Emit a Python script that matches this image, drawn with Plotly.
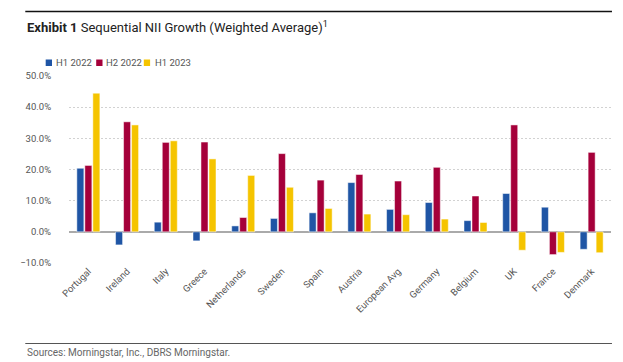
import plotly.graph_objects as go

categories = ["Portugal", "Ireland", "Italy", "Greece", "Netherlands", "Sweden", "Spain",
              "Austria", "European Avg", "Germany", "Belgium", "UK", "France", "Denmark"]
h1_2022 = [20.4, -4.2, 3.1, -2.9, 1.9, 4.3, 6.1, 15.8, 7.2, 9.4, 3.6, 12.3, 7.9, -5.6]
h2_2022 = [21.3, 35.3, 28.7, 28.8, 4.6, 25.1, 16.6, 18.4, 16.3, 20.7, 11.5, 34.3, -7.3, 25.5]
h1_2023 = [44.5, 34.3, 29.2, 23.4, 18.1, 14.3, 7.5, 5.7, 5.5, 4.1, 3.0, -5.9, -6.6, -6.7]
series_names = ["H1 2022", "H2 2022", "H1 2023"]
colors = ["#1F55A5", "#A5003A", "#F5C400"]

FONT = "Roboto, sans-serif"

# page body has an 8px default margin: design the figure in page pixels minus that offset
OFF = 8
W, H = 623 - OFF, 362 - OFF
L, R, T, B = 53 - OFF, 623 - 611, 76 - OFF, 362 - 263
pw, ph = W - L - R, H - T - B

def px_x(x):
    return (x - OFF - L) / pw

def px_y(y):
    return (H - B - (y - OFF)) / ph

fig = go.Figure()
for name, vals, col in zip(series_names, [h1_2022, h2_2022, h1_2023], colors):
    fig.add_trace(go.Bar(x=categories, y=vals, name=name, showlegend=False,
                         marker=dict(color=col, line=dict(color="rgba(255,255,255,0.5)", width=1))))

legend_sq_x = [29, 81, 130]
legend_txt_x = [38, 89, 139]
shapes = [
    dict(type="line", xref="paper", yref="paper", x0=px_x(8), x1=px_x(612),
         y0=px_y(11.5), y1=px_y(11.5), line=dict(color="#111", width=1.5), layer="above"),
    dict(type="line", xref="paper", yref="paper", x0=px_x(8), x1=px_x(612),
         y0=px_y(343.5), y1=px_y(343.5), line=dict(color="#555", width=1.2), layer="above"),
]
annotations = [
    dict(xref="paper", yref="paper", x=px_x(8), y=px_y(27), xanchor="left", yanchor="middle",
         showarrow=False,
         text="<b>Exhibit 1</b> Sequential NII Growth (Weighted Average)<sup>1</sup>",
         font=dict(family=FONT, size=13, color="#222")),
    dict(xref="paper", yref="paper", x=px_x(8), y=px_y(352), xanchor="left", yanchor="middle",
         showarrow=False, text="Sources: Morningstar, Inc., DBRS Morningstar.",
         font=dict(family=FONT, size=10, color="#666")),
]
for sx, tx, c, n in zip(legend_sq_x, legend_txt_x, colors, series_names):
    shapes.append(dict(type="rect", xref="paper", yref="paper", x0=px_x(sx), x1=px_x(sx + 6.5),
                       y0=px_y(66), y1=px_y(59.5), fillcolor=c, line=dict(width=0)))
    annotations.append(dict(xref="paper", yref="paper", x=px_x(tx), y=px_y(63), xanchor="left",
                            yanchor="middle", showarrow=False, text=n,
                            font=dict(family=FONT, size=9.5, color="#555")))

fig.update_layout(
    width=W, height=H,
    margin=dict(l=L, r=R, t=T, b=B),
    paper_bgcolor="white", plot_bgcolor="white",
    barmode="group", bargap=0.38, bargroupgap=0.12,
    font=dict(family=FONT, size=9.5, color="#555"),
    showlegend=False,
    xaxis=dict(tickangle=-45, showgrid=False, showline=False, ticks="",
               tickfont=dict(family=FONT, size=9.5, color="#555")),
    yaxis=dict(range=[-10, 50], dtick=10, tickformat=".1f", ticksuffix="%",
               showgrid=True, gridcolor="#d2d2d2", griddash="2px,2px", gridwidth=1,
               zeroline=True, zerolinecolor="#aaaaaa", zerolinewidth=1.5,
               ticks="outside", ticklen=15, tickcolor="rgba(0,0,0,0)",
               tickfont=dict(family=FONT, size=9.5, color="#555")),
    shapes=shapes,
    annotations=annotations,
)

fig.write_html("out.html", config={"displayModeBar": False})
